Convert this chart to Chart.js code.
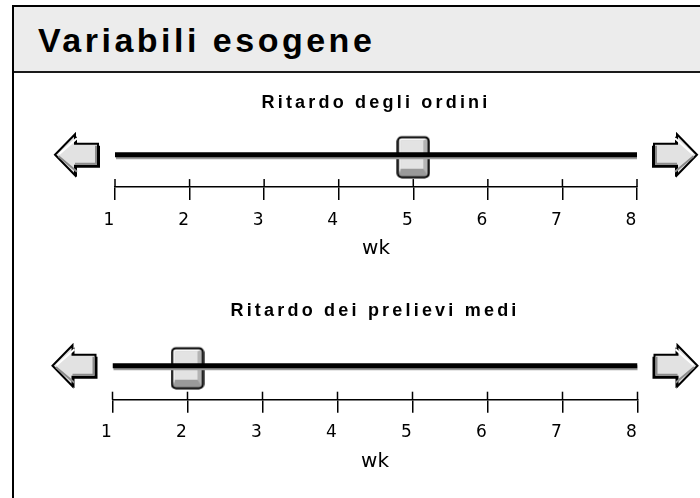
<!DOCTYPE html>
<html lang="it">
<head>
<meta charset="UTF-8">
<title>Variabili esogene</title>
<script src="https://cdn.jsdelivr.net/npm/chart.js"></script>
<style>
    body { margin: 0; width: 700px; height: 498px; overflow: hidden; background: #fff; position: relative; font-family: 'Liberation Sans', Arial, sans-serif; }
    #panel { position: absolute; left: 12px; top: 5px; width: 720px; height: 520px; border: 2px solid #000; }
    #panel-head { height: 64px; background: #ececec; border-bottom: 2px solid #1a1a1a; }
    h1 { position: absolute; left: 38px; top: 23px; margin: 0; font-size: 34px; line-height: 34px; font-weight: bold; letter-spacing: 3.5px; color: #000; }
    .slider { position: absolute; left: 0; width: 700px; }
    #slider-1 { top: 72px; height: 211px; }
    #slider-2 { top: 283px; height: 215px; }
</style>
</head>
<body>
<div id="panel"><div id="panel-head"></div></div>
<h1>Variabili esogene</h1>
<div class="slider" id="slider-1"><canvas id="chart-1"></canvas></div>
<div class="slider" id="slider-2"><canvas id="chart-2"></canvas></div>

<script>
const sliderTitles = ['Ritardo degli ordini', 'Ritardo dei prelievi medi'];
const sliderValues = [5, 2];
const weekTicks = [1, 2, 3, 4, 5, 6, 7, 8];
const axisUnit = 'wk';

// placement of each slider inside its canvas
const sliderBoxes = [
    { left: 115, right: 63, titleTop: 20.2, titleBottom: 8.5, bottom: 23.8 },
    { left: 112.5, right: 62.5, titleTop: 17.2, titleBottom: 9.9, bottom: 26.2 }
];

Chart.defaults.color = '#000';
Chart.defaults.font.family = "'Liberation Sans', Arial, sans-serif";

function makeThumb() {
    const c = document.createElement('canvas');
    c.width = 34; c.height = 48;
    const g = c.getContext('2d');
    g.translate(0, 5);
    g.fillStyle = '#b4b4b4';
    g.beginPath(); g.roundRect(1, 1, 32, 41, 4); g.fill();
    // top / left highlight
    g.fillStyle = '#ffffff';
    g.beginPath();
    g.moveTo(2.5, 2.5); g.lineTo(31.5, 2.5); g.lineTo(27, 4.5); g.lineTo(4.5, 4.5); g.lineTo(4.5, 33); g.lineTo(2.5, 40);
    g.closePath(); g.fill();
    // bottom bevel
    g.fillStyle = '#9a9a9a';
    g.beginPath();
    g.moveTo(2.5, 40); g.lineTo(4.5, 33); g.lineTo(27, 33); g.lineTo(31.5, 40);
    g.closePath(); g.fill();
    // face
    g.fillStyle = '#e3e3e3';
    g.fillRect(4.5, 4.5, 22.5, 28.5);
    g.strokeStyle = '#000'; g.lineWidth = 2.2;
    g.beginPath(); g.roundRect(1.5, 1.5, 31, 40, 4); g.stroke();
    return c;
}
const thumbImg = makeThumb();

function drawArrow(ctx, tip, base, end, cy, dir) {
    const pts = [[tip, cy], [base, cy - 20.5], [base, cy - 11], [end, cy - 11], [end, cy + 11], [base, cy + 11], [base, cy + 20.5]];
    const path = (dx, dy) => {
        ctx.beginPath();
        pts.forEach((p, i) => i ? ctx.lineTo(p[0] + dx, p[1] + dy) : ctx.moveTo(p[0] + dx, p[1] + dy));
        ctx.closePath();
    };
    ctx.save();
    // drop shadow
    ctx.fillStyle = '#000';
    path(-2 * dir, 2); ctx.fill();
    ctx.fillStyle = '#e2e2e2';
    ctx.strokeStyle = '#000'; ctx.lineWidth = 2;
    path(0, 0); ctx.fill(); ctx.stroke();
    // highlight on the upper diagonal
    ctx.strokeStyle = '#fff'; ctx.lineWidth = 2;
    ctx.beginPath();
    ctx.moveTo(tip - dir * 4, cy - 0.5);
    ctx.lineTo(base - dir * 2, cy - 16.5);
    ctx.stroke();
    // inner shading along the far edges
    ctx.strokeStyle = '#8c8c8c'; ctx.lineWidth = 2;
    ctx.beginPath();
    ctx.moveTo(base, cy + 9);
    ctx.lineTo(end + dir * 2, cy + 9);
    ctx.lineTo(end + dir * 2, cy - 9);
    ctx.moveTo(tip - dir * 3.5, cy + 1.5);
    ctx.lineTo(base - dir * 2, cy + 17);
    ctx.stroke();
    ctx.restore();
}

const sliderDecor = {
    id: 'sliderDecor',
    beforeDraw(chart) {
        // spaced lettering for the slider caption
        chart.ctx.letterSpacing = '3.2px';
    },
    beforeDatasetsDraw(chart) {
        const ctx = chart.ctx;
        ctx.letterSpacing = '0px';
        const x = chart.scales.x, y = chart.scales.y;
        const cy = y.getPixelForValue(0);
        // upper half of the tick marks
        ctx.save();
        ctx.strokeStyle = '#000'; ctx.lineWidth = 1.5;
        x.ticks.forEach(t => {
            const px = x.getPixelForValue(t.value);
            ctx.beginPath(); ctx.moveTo(px, x.top - 8); ctx.lineTo(px, x.top); ctx.stroke();
        });
        ctx.restore();
        const a = chart.chartArea;
        drawArrow(ctx, a.left - 60, a.left - 40, a.left - 17, cy, -1);
        drawArrow(ctx, a.right + 60, a.right + 40, a.right + 17, cy, 1);
    },
    beforeDatasetDraw(chart, args) {
        if (args.index !== 0) return;
        const ctx = chart.ctx;
        ctx.save();
        ctx.shadowColor = '#9a9a9a';
        ctx.shadowOffsetX = 1;
        ctx.shadowOffsetY = 2;
        ctx.shadowBlur = 0;
    },
    afterDatasetDraw(chart, args) {
        if (args.index === 0) chart.ctx.restore();
    }
};

function buildSlider(canvasId, i) {
    const box = sliderBoxes[i];
    const lo = weekTicks[0], hi = weekTicks[weekTicks.length - 1];
    return new Chart(document.getElementById(canvasId), {
        type: 'scatter',
        data: {
            datasets: [
                {
                    label: 'track',
                    data: [{ x: lo, y: 0 }, { x: hi, y: 0 }],
                    showLine: true,
                    borderColor: '#000',
                    borderWidth: 5,
                    borderCapStyle: 'butt',
                    pointRadius: 0
                },
                {
                    label: sliderTitles[i],
                    data: [{ x: sliderValues[i], y: 0 }],
                    pointStyle: thumbImg,
                    clip: false
                }
            ]
        },
        options: {
            responsive: true,
            maintainAspectRatio: false,
            animation: false,
            events: [],
            layout: { padding: { left: box.left, right: box.right, top: 0, bottom: box.bottom } },
            plugins: {
                legend: { display: false },
                tooltip: { enabled: false },
                title: {
                    display: true,
                    text: sliderTitles[i],
                    fullSize: false,
                    color: '#000',
                    font: { size: 18, weight: 'bold' },
                    padding: { top: box.titleTop, bottom: box.titleBottom }
                }
            },
            scales: {
                x: {
                    type: 'linear',
                    min: lo,
                    max: hi,
                    afterBuildTicks: s => { s.ticks = weekTicks.map(v => ({ value: v })); },
                    grid: { display: true, drawOnChartArea: false, drawTicks: true, tickLength: 13, color: '#000', lineWidth: 1.5, z: 1 },
                    border: { display: true, color: '#000', width: 1.5, z: 1 },
                    ticks: { z: 1, padding: 10, labelOffset: -6, maxRotation: 0, autoSkip: false, font: { family: "'DejaVu Sans', sans-serif", size: 17 }, color: '#000' },
                    title: { display: true, text: axisUnit, color: '#000', font: { family: "'DejaVu Sans', sans-serif", size: 20 }, padding: { top: -3.5, bottom: -1.8 } }
                },
                y: { display: false, min: -1, max: 1 }
            }
        },
        plugins: [sliderDecor]
    });
}

buildSlider('chart-1', 0);
buildSlider('chart-2', 1);
</script>
</body>
</html>
